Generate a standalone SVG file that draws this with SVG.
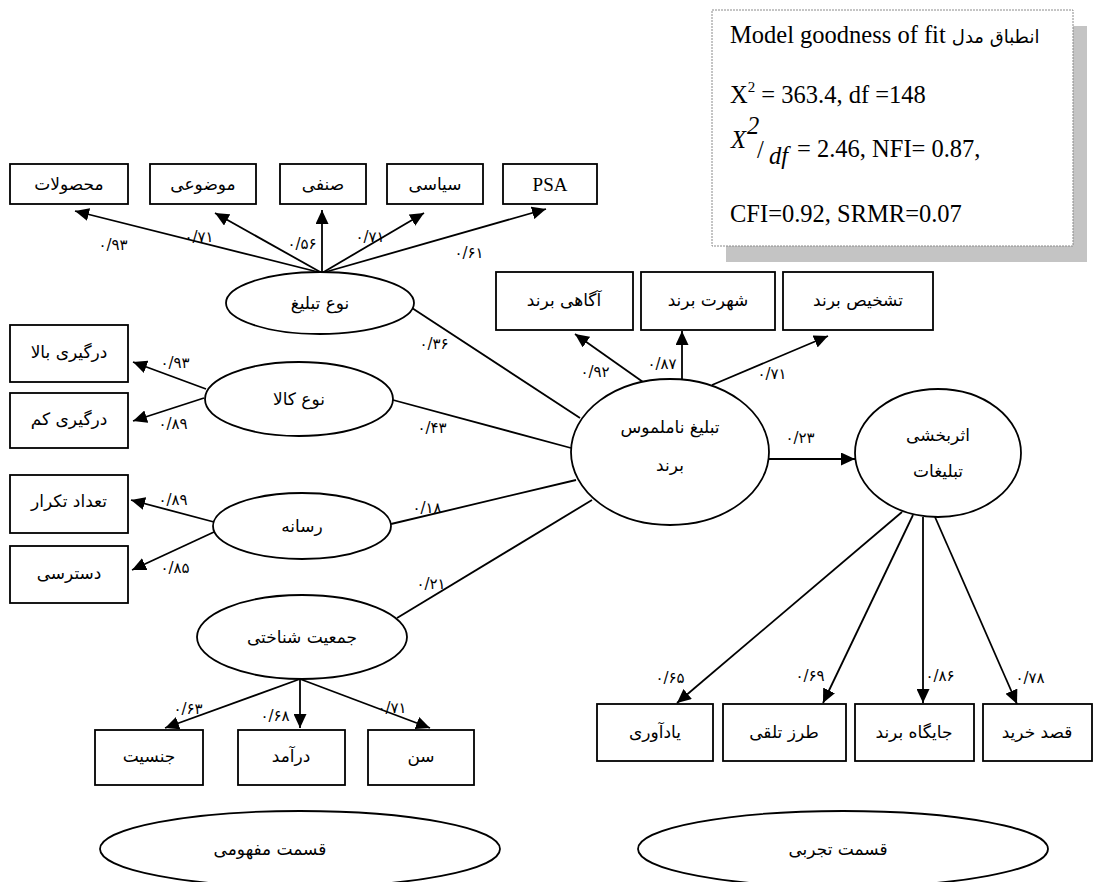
<svg xmlns="http://www.w3.org/2000/svg" width="1095" height="882" viewBox="0 0 1095 882">
<style>
.bx{fill:#fff;stroke:#000;stroke-width:1.8}
.el{fill:#fff;stroke:#000;stroke-width:1.8}
.t{font-family:'DejaVu Sans',sans-serif;font-size:17px;text-anchor:middle;fill:#000}
.n{font-family:'DejaVu Sans',sans-serif;font-size:15px;text-anchor:middle;fill:#000}
.c line{stroke:#000;stroke-width:1.8}
.a{marker-end:url(#ah)}
.fit{font-family:'Liberation Serif',serif;font-size:24.5px;fill:#000}
</style>
<defs>
<marker id="ah" markerUnits="userSpaceOnUse" markerWidth="15" markerHeight="13" refX="14" refY="6.5" orient="auto" viewBox="0 0 15 13">
<path d="M0,0 L14,6.5 L0,13 z" fill="#000"/>
</marker>
</defs>
<rect width="1095" height="882" fill="#fff"/>

<g id="fit-box">
<rect x="726" y="26" width="361" height="236" fill="#c4c4c4"/>
<rect x="712" y="10" width="361" height="236" fill="#fff" stroke="#8a8a8a" stroke-width="1" stroke-dasharray="2,1"/>
<text class="fit" x="730" y="43">Model goodness of fit <tspan font-family="'DejaVu Sans',sans-serif" font-size="18">انطباق مدل</tspan></text>
<text class="fit" x="730" y="103">X<tspan dy="-11" font-size="15">2</tspan><tspan dy="11"> = 363.4, df =148</tspan></text>
<text class="fit" x="731" y="148" font-style="italic" font-size="24">X</text>
<text class="fit" x="747" y="134" font-style="italic" font-size="15">2</text>
<text class="fit" x="757" y="158" font-size="34">/</text>
<text class="fit" x="769" y="164" font-style="italic">df</text>
<text class="fit" x="797" y="157">= 2.46, NFI= 0.87,</text>
<text class="fit" x="730" y="222">CFI=0.92, SRMR=0.07</text>
</g>

<g id="connectors" class="c">
<line class="a" x1="322" y1="273" x2="75" y2="211"/>
<line class="a" x1="322" y1="273" x2="215" y2="213"/>
<line class="a" x1="322" y1="273" x2="322" y2="210"/>
<line class="a" x1="322" y1="273" x2="424" y2="213"/>
<line class="a" x1="322" y1="273" x2="546" y2="209"/>
<line class="a" x1="206" y1="389" x2="133" y2="362"/>
<line class="a" x1="204" y1="398" x2="133" y2="421"/>
<line class="a" x1="214" y1="522" x2="131" y2="500"/>
<line class="a" x1="214" y1="532" x2="132" y2="570"/>
<line x1="412" y1="308" x2="580" y2="418"/>
<line x1="393" y1="400" x2="571" y2="448"/>
<line x1="391" y1="524" x2="576" y2="480"/>
<line x1="397" y1="618" x2="592" y2="500"/>
<line class="a" x1="300" y1="679" x2="165" y2="728"/>
<line class="a" x1="300" y1="679" x2="300" y2="728"/>
<line class="a" x1="300" y1="679" x2="430" y2="728"/>
<line class="a" x1="643" y1="382" x2="575" y2="334"/>
<line class="a" x1="682" y1="379" x2="682" y2="331"/>
<line class="a" x1="712" y1="385" x2="828" y2="336"/>
<line class="a" x1="769" y1="459" x2="855" y2="459"/>
<line class="a" x1="902" y1="512" x2="677" y2="703"/>
<line class="a" x1="913" y1="515" x2="823" y2="703"/>
<line class="a" x1="923" y1="517" x2="923" y2="703"/>
<line class="a" x1="935" y1="517" x2="1017" y2="704"/>
<text class="n" x="113" y="250">۰/۹۳</text>
<text class="n" x="199" y="242">۰/۷۱</text>
<text class="n" x="302" y="249">۰/۵۶</text>
<text class="n" x="370" y="242">۰/۷۱</text>
<text class="n" x="469" y="258">۰/۶۱</text>
<text class="n" x="175" y="368">۰/۹۳</text>
<text class="n" x="173" y="429">۰/۸۹</text>
<text class="n" x="173" y="505">۰/۸۹</text>
<text class="n" x="175" y="573">۰/۸۵</text>
<text class="n" x="434" y="349">۰/۳۶</text>
<text class="n" x="432" y="433">۰/۴۳</text>
<text class="n" x="427" y="513">۰/۱۸</text>
<text class="n" x="431" y="589">۰/۲۱</text>
<text class="n" x="188" y="714">۰/۶۳</text>
<text class="n" x="275" y="721">۰/۶۸</text>
<text class="n" x="392" y="713">۰/۷۱</text>
<text class="n" x="595" y="377">۰/۹۲</text>
<text class="n" x="662" y="369">۰/۸۷</text>
<text class="n" x="772" y="379">۰/۷۱</text>
<text class="n" x="800" y="443">۰/۲۳</text>
<text class="n" x="670" y="683">۰/۶۵</text>
<text class="n" x="810" y="681">۰/۶۹</text>
<text class="n" x="940" y="681">۰/۸۶</text>
<text class="n" x="1030" y="683">۰/۷۸</text>
</g>

<g id="n-mahsoolat"><rect class="bx" x="10" y="164" width="118" height="40"/><text class="t" x="69" y="190">محصولات</text></g>
<g id="n-mozooi"><rect class="bx" x="150" y="164" width="106" height="40"/><text class="t" x="203" y="190">موضوعی</text></g>
<g id="n-senfi"><rect class="bx" x="280" y="164" width="86" height="40"/><text class="t" x="323" y="190">صنفی</text></g>
<g id="n-siasi"><rect class="bx" x="387" y="164" width="96" height="40"/><text class="t" x="435" y="190">سیاسی</text></g>
<g id="n-psa"><rect class="bx" x="503" y="164" width="94" height="40"/><text x="550" y="191" text-anchor="middle" font-family="'Liberation Serif',serif" font-size="19">PSA</text></g>

<g id="n-noe-tabligh"><ellipse class="el" cx="320" cy="303" rx="94" ry="31"/><text class="t" x="320" y="309">نوع تبلیغ</text></g>
<g id="n-noe-kala"><ellipse class="el" cx="299" cy="399" rx="94" ry="37"/><text class="t" x="299" y="405">نوع کالا</text></g>
<g id="n-resane"><ellipse class="el" cx="302" cy="526" rx="89" ry="33"/><text class="t" x="302" y="532">رسانه</text></g>
<g id="n-jamiat"><ellipse class="el" cx="302" cy="637" rx="105" ry="42"/><text class="t" x="302" y="643">جمعیت شناختی</text></g>

<g id="n-dargiri-bala"><rect class="bx" x="10" y="325" width="118" height="57"/><text class="t" x="69" y="358">درگیری بالا</text></g>
<g id="n-dargiri-kam"><rect class="bx" x="10" y="393" width="118" height="55"/><text class="t" x="69" y="425">درگیری کم</text></g>
<g id="n-tedad"><rect class="bx" x="10" y="475" width="118" height="58"/><text class="t" x="69" y="507">تعداد تکرار</text></g>
<g id="n-dastresi"><rect class="bx" x="10" y="546" width="118" height="57"/><text class="t" x="69" y="579">دسترسی</text></g>

<g id="n-jensiat"><rect class="bx" x="95" y="730" width="108" height="55"/><text class="t" x="149" y="762">جنسیت</text></g>
<g id="n-daramad"><rect class="bx" x="238" y="730" width="107" height="55"/><text class="t" x="291" y="762">درآمد</text></g>
<g id="n-sen"><rect class="bx" x="368" y="730" width="106" height="55"/><text class="t" x="421" y="762">سن</text></g>

<g id="n-agahi"><rect class="bx" x="496" y="272" width="137" height="58"/><text class="t" x="564" y="306">آگاهی برند</text></g>
<g id="n-shohrat"><rect class="bx" x="641" y="272" width="134" height="58"/><text class="t" x="708" y="306">شهرت برند</text></g>
<g id="n-tashkhis"><rect class="bx" x="783" y="272" width="150" height="58"/><text class="t" x="858" y="306">تشخیص برند</text></g>

<g id="n-tabligh-namalmoos"><ellipse class="el" cx="670" cy="452" rx="99" ry="73"/><text class="t" x="670" y="433">تبلیغ ناملموس</text><text class="t" x="670" y="471">برند</text></g>
<g id="n-asarbakhshi"><ellipse class="el" cx="938" cy="453" rx="83" ry="64"/><text class="t" x="938" y="441">اثربخشی</text><text class="t" x="938" y="477">تبلیغات</text></g>

<g id="n-yadavari"><rect class="bx" x="597" y="704" width="116" height="57"/><text class="t" x="655" y="738">یادآوری</text></g>
<g id="n-tarz"><rect class="bx" x="723" y="704" width="123" height="57"/><text class="t" x="784" y="738">طرز تلقی</text></g>
<g id="n-jaygah"><rect class="bx" x="855" y="704" width="119" height="57"/><text class="t" x="914" y="738">جایگاه برند</text></g>
<g id="n-ghasd"><rect class="bx" x="983" y="704" width="109" height="57"/><text class="t" x="1037" y="738">قصد خرید</text></g>

<g id="n-mafhoomi"><ellipse class="el" cx="300" cy="849" rx="200" ry="38"/><text class="t" x="270" y="855">قسمت مفهومی</text></g>
<g id="n-tajrobi"><ellipse class="el" cx="843" cy="849" rx="205" ry="38"/><text class="t" x="838" y="855">قسمت تجربی</text></g>
</svg>
